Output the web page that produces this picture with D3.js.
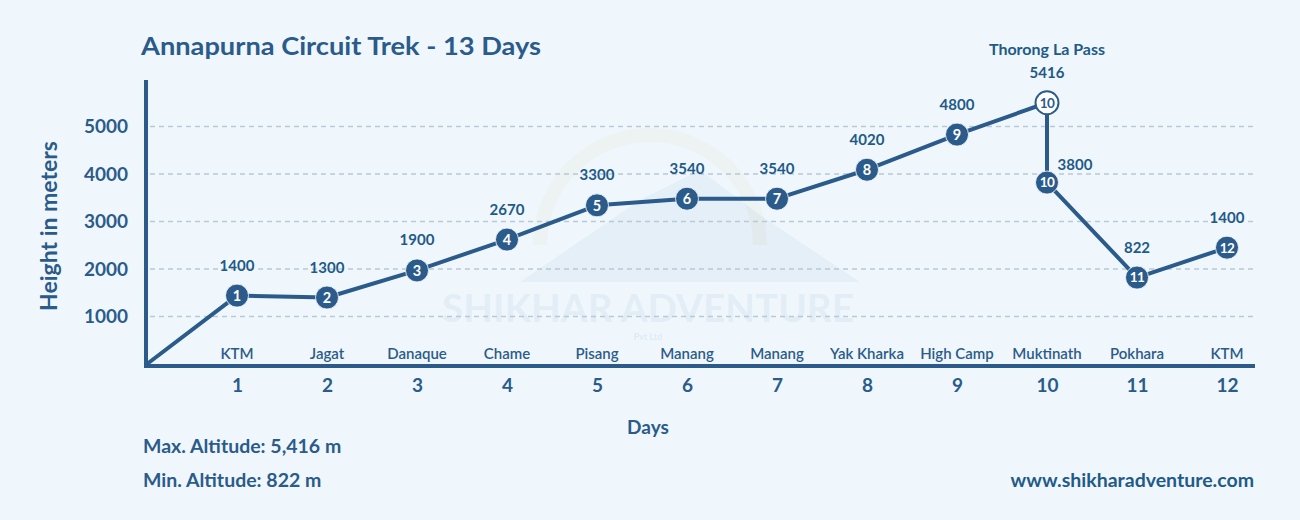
<!DOCTYPE html>
<html><head><meta charset="utf-8">
<script src="https://cdn.jsdelivr.net/npm/d3@7"></script>
<style>
html,body{margin:0;padding:0;background:#eff7fd;}
svg{display:block;font-family:Lato,"Noto Sans",sans-serif;}
</style></head>
<body><svg id="c" width="1300" height="520"></svg>
<script>
// ---- data ----
const days = [0,1,2,3,4,5,6,7,8,9,10,10,11,12];
const pointLabels = ["", "1","2","3","4","5","6","7","8","9","10","10","11","12"];
const heights = [0,1440,1400,1970,2620,3340,3480,3480,4090,4830,5500,3820,1820,2450];
const valueLabels = ["", "1400","1300","1900","2670","3300","3540","3540","4020","4800","5416","3800","822","1400"];
const places = ["KTM","Jagat","Danaque","Chame","Pisang","Manang","Manang","Yak Kharka","High Camp","Muktinath","Pokhara","KTM"];
const dayTicks = [1,2,3,4,5,6,7,8,9,10,11,12];
const yTicks = [1000,2000,3000,4000,5000];

const C = "#2b5b8a", CT = "#1f5a88";
const svg = d3.select("#c");
svg.append("rect").attr("width",1300).attr("height",520).attr("fill","#eff7fd");

const x = d3.scaleLinear().domain([0,12]).range([147,1227]);
const y = d3.scaleLinear().domain([0,6000]).range([364,79]);

// watermark
const wm = svg.append("g");
wm.append("path").attr("d","M520,282 L640,200 L700,170 L760,215 L860,282 Z").attr("fill","#2b5b8a").attr("opacity",0.05);
wm.append("path").attr("d","M540,245 A110,110 0 0 1 760,245").attr("fill","none").attr("stroke","#e0a040").attr("stroke-width",14).attr("opacity",0.05);
wm.append("text").attr("x",648).attr("y",322).attr("text-anchor","middle").attr("font-size",38).attr("font-weight",700)
  .attr("fill","#2b5b8a").attr("opacity",0.06).attr("textLength",412).attr("lengthAdjust","spacingAndGlyphs").text("SHIKHAR ADVENTURE");
wm.append("text").attr("x",648).attr("y",340).attr("text-anchor","middle").attr("font-size",9).attr("font-weight",700)
  .attr("fill","#2b5b8a").attr("opacity",0.08).text("Pvt Ltd");

// gridlines
svg.append("g").selectAll("line").data(yTicks).join("line")
  .attr("x1",150).attr("x2",1255).attr("y1",d=>y(d)).attr("y2",d=>y(d))
  .attr("stroke","#b9c9d6").attr("stroke-width",1.3).attr("stroke-dasharray","5,4");

// y axis
const yAxis = svg.append("g").attr("transform","translate(146,0)")
  .call(d3.axisLeft(y).tickValues(yTicks).tickSize(0).tickPadding(18).tickFormat(d3.format("d")));
yAxis.select(".domain").remove();
yAxis.selectAll("text").attr("font-size",19).attr("font-weight",700).attr("fill",C).attr("font-family","Lato,sans-serif");
svg.append("line").attr("x1",146).attr("x2",146).attr("y1",80).attr("y2",368).attr("stroke",C).attr("stroke-width",4);

// x axis
const xAxis = svg.append("g").attr("transform","translate(0,366)")
  .call(d3.axisBottom(x).tickValues(dayTicks).tickSize(0).tickPadding(13).tickFormat(d3.format("d")));
xAxis.select(".domain").remove();
xAxis.selectAll("text").attr("font-size",19).attr("font-weight",700).attr("fill",C).attr("font-family","Lato,sans-serif");
svg.append("line").attr("x1",144).attr("x2",1255).attr("y1",366).attr("y2",366).attr("stroke",C).attr("stroke-width",4);

// place names
svg.append("g").selectAll("text").data(places).join("text")
  .attr("x",(d,i)=>x(dayTicks[i])).attr("y",359).attr("text-anchor","middle")
  .attr("font-size",15).attr("font-weight",600).attr("fill",C).text(d=>d);

// line
const pts = days.map((d,i)=>({d, h:heights[i], p:pointLabels[i], v:valueLabels[i], i}));
svg.append("path").datum(pts)
  .attr("d",d3.line().x(p=>x(p.d)).y(p=>y(p.h)))
  .attr("fill","none").attr("stroke",C).attr("stroke-width",4).attr("stroke-linejoin","round");

// points
const mk = svg.append("g").selectAll("g").data(pts.filter(p=>p.i>0)).join("g")
  .attr("transform",p=>`translate(${x(p.d)},${y(p.h)})`);
mk.append("circle").attr("r",11.5)
  .attr("fill",p=>p.i===10?"#ffffff":C)
  .attr("stroke",p=>p.i===10?C:"#ffffff").attr("stroke-width",p=>p.i===10?2:0.8);
mk.append("text").attr("text-anchor","middle").attr("dy","0.36em")
  .attr("font-size",p=>p.p.length>1?13.5:14.5).attr("font-weight",700)
  .attr("fill",p=>p.i===10?C:"#ffffff").attr("letter-spacing",p=>p.p.length>1?-0.6:0).text(p=>p.p);

// value labels
svg.append("g").selectAll("text").data(pts.filter(p=>p.i>0)).join("text")
  .attr("x",p=>p.i===11? x(p.d)+28 : x(p.d))
  .attr("y",p=>p.i===11? y(p.h)-13 : y(p.h)-25)
  .attr("text-anchor","middle").attr("font-size",15).attr("font-weight",700).attr("fill",CT)
  .text(p=>p.v);
svg.append("text").attr("x",x(10)).attr("y",y(heights[10])-48).attr("text-anchor","middle")
  .attr("font-size",16).attr("font-weight",700).attr("fill",CT).text("Thorong La Pass");

// titles
svg.append("text").attr("x",141).attr("y",55).attr("font-size",24).attr("font-weight",700).attr("fill",C)
  .attr("textLength",400).attr("lengthAdjust","spacingAndGlyphs").text("Annapurna Circuit Trek - 13 Days");
svg.append("text").attr("transform","translate(57,226) rotate(-90)").attr("text-anchor","middle")
  .attr("font-size",23).attr("font-weight",700).attr("fill",C).text("Height in meters");
svg.append("text").attr("x",648).attr("y",434).attr("text-anchor","middle")
  .attr("font-size",19).attr("font-weight",700).attr("fill",C).text("Days");
svg.append("text").attr("x",143).attr("y",453).attr("font-size",19.5).attr("font-weight",700).attr("fill",C).text("Max. Altitude: 5,416 m");
svg.append("text").attr("x",143).attr("y",487).attr("font-size",19.5).attr("font-weight",700).attr("fill",C).text("Min. Altitude: 822 m");
svg.append("text").attr("x",1254).attr("y",487).attr("text-anchor","end").attr("font-size",19.5).attr("font-weight",700).attr("fill",CT).text("www.shikharadventure.com");
</script></body></html>
